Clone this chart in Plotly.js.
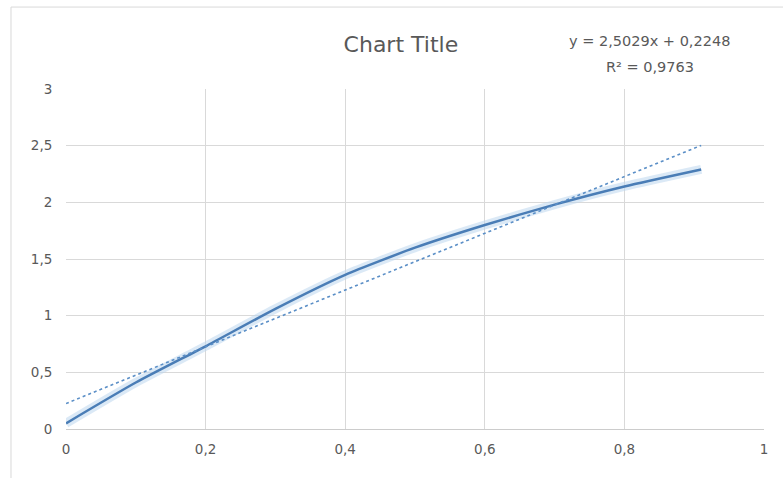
<!DOCTYPE html>
<html>
<head>
<meta charset="utf-8">
<script src="https://cdn.plot.ly/plotly-3.0.1.min.js"></script>
<style>
  html, body { margin: 0; padding: 0; background: #ffffff; }
  #chart { width: 783px; height: 478px; }
</style>
</head>
<body>
<div id="chart"></div>
<script>
// Measured series
const xValues = [0, 0.1, 0.2, 0.3, 0.4, 0.5, 0.6, 0.7, 0.8, 0.91];
const yValues = [0.05, 0.41, 0.73, 1.06, 1.36, 1.60, 1.80, 1.98, 2.14, 2.29];

// Linear trendline as stated in the equation label
const trendSlope = 2.5029;
const trendIntercept = 0.2248;
const trendR2 = 0.9763;

const xTicks = [0, 0.2, 0.4, 0.6, 0.8, 1];
const yTicks = [0, 0.5, 1, 1.5, 2, 2.5, 3];

const fmt = v => String(v).replace('.', ',');

const trendX = [xValues[0], xValues[xValues.length - 1]];
const trendY = trendX.map(x => trendSlope * x + trendIntercept);

const gray = '#595959';
const fontFamily = 'DejaVu Sans, sans-serif';

const traces = [
  { // soft glow under the series line
    x: xValues, y: yValues, type: 'scatter', mode: 'lines',
    line: { color: 'rgba(189,215,238,0.55)', width: 9, shape: 'spline', smoothing: 0.6 },
    hoverinfo: 'skip', showlegend: false
  },
  {
    x: xValues, y: yValues, type: 'scatter', mode: 'lines',
    line: { color: '#4a7db6', width: 2.5, shape: 'spline', smoothing: 0.6 },
    showlegend: false
  },
  {
    x: trendX, y: trendY, type: 'scatter', mode: 'lines',
    line: { color: '#5b8fc7', width: 1.6, dash: 'dot' },
    showlegend: false
  }
];

const layout = {
  width: 783, height: 478,
  margin: { l: 66, r: 19, t: 89, b: 49 },
  paper_bgcolor: '#ffffff', plot_bgcolor: '#ffffff',
  separators: ',.',
  font: { family: fontFamily, color: gray, size: 13 },
  title: {
    text: 'Chart Title',
    font: { family: fontFamily, size: 22, color: gray },
    x: 0.512, xanchor: 'center', y: 0.908, yanchor: 'middle'
  },
  xaxis: {
    range: [0, 1], tickvals: xTicks, ticktext: xTicks.map(fmt),
    showgrid: true, gridcolor: '#d9d9d9', gridwidth: 1,
    zeroline: false, showline: true, linecolor: '#cccccc', linewidth: 1,
    ticks: 'outside', ticklen: 8, tickcolor: 'rgba(0,0,0,0)',
    tickfont: { size: 13.5, color: gray }, fixedrange: true
  },
  yaxis: {
    range: [0, 3], tickvals: yTicks, ticktext: yTicks.map(fmt),
    showgrid: true, gridcolor: '#d9d9d9', gridwidth: 1,
    zeroline: false, showline: false,
    ticks: 'outside', ticklen: 10, tickcolor: 'rgba(0,0,0,0)',
    tickfont: { size: 13.5, color: gray }, fixedrange: true
  },
  annotations: [
    {
      text: 'y = ' + fmt(trendSlope) + 'x + ' + fmt(trendIntercept),
      xref: 'paper', yref: 'paper', x: 0.836, y: 1.14,
      xanchor: 'center', yanchor: 'middle', showarrow: false,
      font: { family: fontFamily, size: 14.5, color: gray }
    },
    {
      text: 'R² = ' + fmt(trendR2),
      xref: 'paper', yref: 'paper', x: 0.836, y: 1.065,
      xanchor: 'center', yanchor: 'middle', showarrow: false,
      font: { family: fontFamily, size: 14.5, color: gray }
    }
  ],
  shapes: [
    { // chart area outline
      type: 'rect', xref: 'paper', yref: 'paper',
      x0: -0.0788, x1: 1.2, y0: -0.3, y1: 1.241,
      line: { color: '#d9d9d9', width: 1 }, fillcolor: 'rgba(0,0,0,0)', layer: 'below'
    }
  ]
};

Plotly.newPlot('chart', traces, layout, { displayModeBar: false, staticPlot: true });
</script>
</body>
</html>
